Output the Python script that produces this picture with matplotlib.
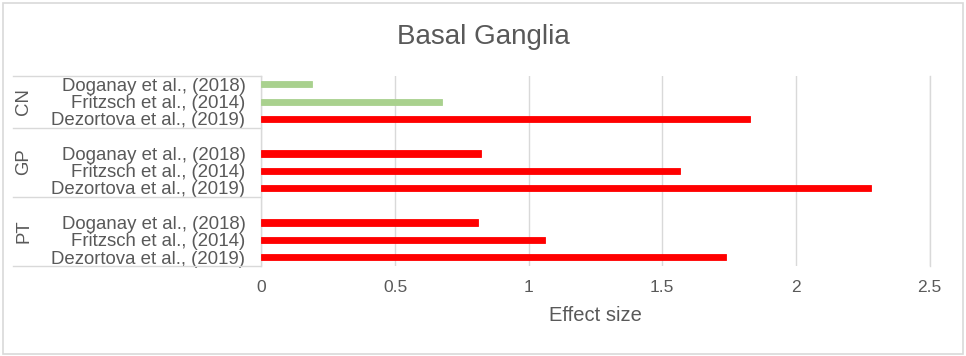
import matplotlib
matplotlib.use("Agg")
import matplotlib.pyplot as plt
import matplotlib.transforms as mtransforms
from matplotlib.patches import Rectangle

plt.rcParams['font.family'] = ['Liberation Sans', 'DejaVu Sans']

# ---- data ----
title = "Basal Ganglia"
xlabel = "Effect size"
groups = ["CN", "GP", "PT"]
studies = ["Doganay et al., (2018)", "Fritzsch et al., (2014)", "Dezortova et al., (2019)"]
cn_values = [0.19, 0.675, 1.83]
gp_values = [0.82, 1.565, 2.28]
pt_values = [0.81, 1.06, 1.74]
cn_colors = ["#A9D18E", "#A9D18E", "#FF0000"]
gp_colors = ["#FF0000", "#FF0000", "#FF0000"]
pt_colors = ["#FF0000", "#FF0000", "#FF0000"]
xticks = [0, 0.5, 1, 1.5, 2, 2.5]
xtick_labels = ["0", "0.5", "1", "1.5", "2", "2.5"]

group_values = [cn_values, gp_values, pt_values]
group_colors = [cn_colors, gp_colors, pt_colors]

TXT = "#595959"
GRID = "#D9D9D9"

W, H = 966, 356
fig = plt.figure(figsize=(W / 100, H / 100), dpi=100)
left_px, right_px, top_px, bot_px = 261.4, 929.5, 75.7, 265.7
ax = fig.add_axes([left_px / W, 1 - bot_px / H, (right_px - left_px) / W, (bot_px - top_px) / H])

# build slot positions (blank slot between groups)
ys, vals, cols, labels = [], [], [], []
boundaries = [-0.5]
group_spans = []
slot = 0
for gi, (g, gv, gc) in enumerate(zip(groups, group_values, group_colors)):
    start = slot - 0.5
    if gi > 0:
        slot += 1
    for s, v, c in zip(studies, gv, gc):
        ys.append(slot)
        vals.append(v)
        cols.append(c)
        labels.append(s)
        slot += 1
    end = slot - 0.5
    boundaries.append(end)
    group_spans.append((start, end))

ax.barh(ys, vals, height=0.36, color=cols, edgecolor=cols, linewidth=0.6, zorder=3)
ax.set_ylim(slot - 0.5, -0.5)
ax.set_xlim(0, 2.5)

ax.set_xticks(xticks)
ax.set_xticklabels(xtick_labels)
ax.tick_params(axis='x', length=0, pad=10, labelsize=12.5, labelcolor=TXT)
ax.set_yticks(ys)
ax.set_yticklabels(labels)
ax.tick_params(axis='y', length=0, pad=11.5, labelsize=13.4, labelcolor=TXT)

for spine in ["top", "right", "bottom"]:
    ax.spines[spine].set_visible(False)
ax.spines["left"].set_color(GRID)
ax.spines["left"].set_linewidth(1)

ax.xaxis.grid(True, color=GRID, linewidth=1)
ax.set_axisbelow(True)
# gridline at xmax (edge)
ax.axvline(2.5, color=GRID, linewidth=1, zorder=0, clip_on=False)

ax.set_xlabel(xlabel, fontsize=14.5, color=TXT, labelpad=8)
fig.text(483 / W, 1 - 44 / H, title, ha='center', va='baseline', fontsize=20, color=TXT)

# group label panel lines
trans = mtransforms.blended_transform_factory(ax.transAxes, ax.transData)
panel_left = (13 - left_px) / (right_px - left_px)
for b in boundaries:
    ax.plot([panel_left, 0], [b, b], transform=trans, color=GRID, linewidth=1, clip_on=False)

label_x = (24 - left_px) / (right_px - left_px)
for g, (s, e) in zip(groups, group_spans):
    ax.text(label_x, (s + e) / 2, g, transform=trans, rotation=90, ha='center', va='center',
            fontsize=13.4, color=TXT, clip_on=False)

# figure border
fig.patches.append(Rectangle((3 / W, 2 / H), (W - 6) / W, (H - 5) / H, transform=fig.transFigure,
                             fill=False, edgecolor=GRID, linewidth=1.2))

fig.savefig("out.png", dpi=100)
